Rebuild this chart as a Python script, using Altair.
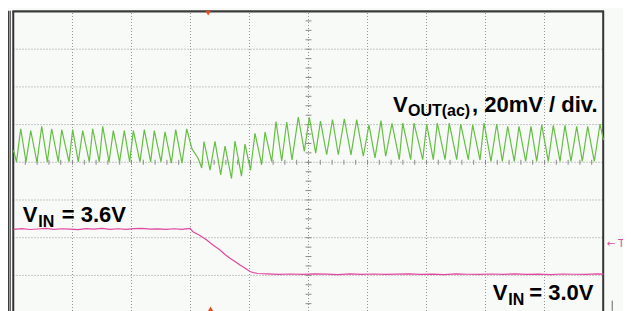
import altair as alt
import pandas as pd

# ---- Oscilloscope screen: 10 x 8 divisions -------------------------------
# VOUT(ac) trace (channel 1): time in divisions, value in mV (0 mV = centre line)
green_t = [0.0, 0.051, 0.122, 0.212, 0.292, 0.398, 0.478, 0.573, 0.647, 0.759,
           0.817, 0.941, 1.003, 1.098, 1.173, 1.285, 1.342, 1.454, 1.512, 1.619,
           1.692, 1.797, 1.878, 1.969, 2.031, 2.144, 2.217, 2.325, 2.386, 2.5,
           2.568, 2.675, 2.749, 2.856, 2.936, 3.025, 3.127, 3.19, 3.229, 3.331,
           3.415, 3.512, 3.585, 3.695, 3.754, 3.864, 3.924, 4.017, 4.093, 4.207,
           4.263, 4.376, 4.449, 4.546, 4.631, 4.72, 4.827, 4.929, 5.014, 5.122,
           5.203, 5.308, 5.407, 5.505, 5.607, 5.72, 5.817, 5.929, 6.025, 6.127,
           6.229, 6.308, 6.415, 6.539, 6.597, 6.732, 6.788, 6.936, 7.003, 7.115,
           7.183, 7.314, 7.386, 7.512, 7.58, 7.708, 7.783, 7.907, 7.975, 8.093,
           8.19, 8.285, 8.376, 8.488, 8.568, 8.681, 8.771, 8.868, 8.953, 9.064,
           9.149, 9.263, 9.347, 9.449, 9.546, 9.641, 9.732, 9.844, 9.941, 10.0]
green_mv = [6.5, 0.2, 17.8, 0.2, 16.8, -0.1, 19.1, 0.2, 17.8, 0.2,
            17.3, 0.2, 17.3, 0.2, 16.8, 0.2, 17.8, 0.2, 19.1, 0.2,
            16.8, 0.2, 16.8, 0.2, 16.8, 0.2, 17.3, 0.2, 16.8, 0.2,
            16.1, -0.4, 17.3, -0.4, 17.7, 7.1, 2.3, -3.0, 11.0, -4.1,
            11.1, -6.7, 8.6, -8.6, 11.3, -7.3, 9.7, -4.1, 15.4, -1.2,
            16.1, 0.4, 21.6, 0.7, 21.4, 1.2, 24.0, 5.8, 23.9, 4.9,
            21.9, 4.0, 22.7, 4.0, 23.1, 3.9, 22.6, 3.2, 19.9, 2.3,
            22.1, 3.2, 20.6, 1.4, 20.8, 1.4, 20.8, 1.4, 20.3, 1.4,
            20.8, 1.4, 20.8, 1.4, 20.3, 1.4, 19.9, 1.2, 20.8, 0.5,
            20.3, 0.5, 19.1, 0.5, 19.1, 0.5, 19.1, 0.5, 19.9, 0.5,
            19.6, 0.5, 19.6, 0.5, 19.1, 0.5, 19.1, 0.5, 20.3, 11.8]

# VIN trace (channel 2): time in divisions, value in volts
vin_t = [0.0, 0.144, 0.28, 0.415, 0.551, 0.686, 0.822, 0.958, 1.093, 1.229,
         1.364, 1.5, 1.636, 1.771, 1.907, 2.042, 2.178, 2.314, 2.449, 2.585,
         2.72, 2.856, 2.992, 3.042, 3.161, 3.275, 3.381, 3.5, 3.585, 3.669,
         3.754, 3.839, 3.953, 4.008, 4.059, 4.136,
         4.3, 4.5, 4.7, 4.9, 5.1, 5.3, 5.5, 5.7, 5.9, 6.1,
         6.3, 6.5, 6.7, 6.9, 7.1, 7.3, 7.5, 7.7, 7.9, 8.1,
         8.3, 8.5, 8.7, 8.9, 9.1, 9.3, 9.5, 9.7, 9.9, 10.0]
vin_v = [3.596, 3.604, 3.593, 3.6, 3.607, 3.595, 3.603, 3.597, 3.592, 3.604,
         3.599, 3.608, 3.596, 3.603, 3.595, 3.605, 3.609, 3.597, 3.601, 3.595,
         3.603, 3.596, 3.607, 3.564, 3.514, 3.454, 3.388, 3.321, 3.262, 3.211,
         3.169, 3.123, 3.065, 3.036, 3.023, 3.010,
         3.004, 2.998, 3.003, 2.997, 3.005, 3.001, 2.996, 3.004, 2.999, 3.003,
         2.997, 3.002, 3.006, 2.998, 3.001, 2.996, 3.004, 3.0, 2.997, 3.003,
         2.999, 3.005, 2.998, 3.002, 2.996, 3.003, 3.0, 2.997, 3.004, 3.001]

# Channel settings
VOUT_MV_PER_DIV = 20.0
VOUT_CENTER_DIV = 4.0
VIN_V_PER_DIV = 0.5
VIN_REF_V = 3.6
VIN_REF_DIV = 2.231

# Graticule
grid_x = [1, 2, 3, 4, 5, 6, 7, 8, 9]
grid_y = [1, 2, 3, 4, 5, 6, 7]

# Labels (division coordinates)
label_text = ["V", "OUT(ac)", ", 20mV / div.", "V", "IN", "= 3.6V", "V", "IN", "= 3.0V"]
label_x = [6.432, 6.686, 7.771, 0.156, 0.42, 0.817, 8.122, 8.386, 8.742]
label_y = [5.347, 5.215, 5.347, 2.424, 2.292, 2.424, 0.347, 0.215, 0.347]
label_size = [22, 16, 22, 22, 16, 22, 22, 16, 22]

X_DOM = [-0.0932, 10.3305]
Y_DOM = [0.0557, 8.0928]
W, H = 615, 303

xs = alt.Scale(domain=X_DOM, nice=False, zero=False)
ys = alt.Scale(domain=Y_DOM, nice=False, zero=False)

assert len(green_t) == len(green_mv)
assert len(vin_t) == len(vin_v)

green_df = pd.DataFrame({
    "t": green_t,
    "div": [VOUT_CENTER_DIV + v / VOUT_MV_PER_DIV for v in green_mv],
})
vin_df = pd.DataFrame({
    "t": vin_t,
    "div": [VIN_REF_DIV + (v - VIN_REF_V) / VIN_V_PER_DIV for v in vin_v],
})

GRID = "#959595"
vgrid = pd.DataFrame({"x": grid_x, "y": [Y_DOM[0]] * len(grid_x), "y2": [8.0] * len(grid_x)})
hgrid = pd.DataFrame({"y": grid_y, "x": [0.0] * len(grid_y), "x2": [10.0] * len(grid_y)})

# minor ticks on the centre cross
tick_rows = []
for j in range(1, 33):
    yy = j / 4
    if Y_DOM[0] < yy < 8:
        tick_rows.append({"x": 4.95, "x2": 5.05, "y": yy, "y2": yy})
for j in range(1, 50):
    xx = j / 5
    tick_rows.append({"x": xx, "x2": xx, "y": 3.934, "y2": 4.066})
ticks = pd.DataFrame(tick_rows)

frame = pd.DataFrame([
    {"x": -0.084, "x2": -0.084, "y": Y_DOM[0], "y2": 8.02, "w": 1.6, "c": "#3c3c3c"},
    {"x": -0.054, "x2": -0.054, "y": Y_DOM[0], "y2": 8.02, "w": 1.2, "c": "#555555"},
    {"x": -0.004, "x2": -0.004, "y": Y_DOM[0], "y2": 8.005, "w": 2.0, "c": "#333333"},
    {"x": 9.995, "x2": 9.995, "y": Y_DOM[0], "y2": 8.005, "w": 2.0, "c": "#333333"},
    {"x": -0.02, "x2": 10.01, "y": 8.005, "y2": 8.005, "w": 2.2, "c": "#3a3a3a"},
    {"x": 10.148, "x2": 10.148, "y": 0.06, "y2": 0.33, "w": 1.0, "c": "#666666"},
])

vg = alt.Chart(vgrid).mark_rule(color=GRID, strokeDash=[1, 2], strokeWidth=1).encode(
    x=alt.X("x:Q", scale=xs, axis=None), y=alt.Y("y:Q", scale=ys, axis=None), y2="y2:Q")
hg = alt.Chart(hgrid).mark_rule(color=GRID, strokeDash=[1, 2], strokeWidth=1).encode(
    x=alt.X("x:Q", scale=xs, axis=None), x2="x2:Q", y=alt.Y("y:Q", scale=ys, axis=None))
tk = alt.Chart(ticks).mark_rule(color="#8a8a8a", strokeWidth=1).encode(
    x=alt.X("x:Q", scale=xs, axis=None), x2="x2:Q",
    y=alt.Y("y:Q", scale=ys, axis=None), y2="y2:Q")
fr = alt.Chart(frame).mark_rule().encode(
    x=alt.X("x:Q", scale=xs, axis=None), x2="x2:Q",
    y=alt.Y("y:Q", scale=ys, axis=None), y2="y2:Q",
    size=alt.Size("w:Q", scale=None, legend=None),
    color=alt.Color("c:N", scale=None, legend=None))

green = alt.Chart(green_df).mark_line(color="#66bf45", strokeWidth=1.2, clip=True).encode(
    x=alt.X("t:Q", scale=xs, axis=None), y=alt.Y("div:Q", scale=ys, axis=None))
vin = alt.Chart(vin_df).mark_line(color="#e0479f", strokeWidth=1.2, clip=True).encode(
    x=alt.X("t:Q", scale=xs, axis=None), y=alt.Y("div:Q", scale=ys, axis=None))

labels = pd.DataFrame({"text": label_text, "x": label_x, "y": label_y, "s": label_size})
lab = alt.Chart(labels).mark_text(
    align="left", baseline="alphabetic", font="Liberation Sans", fontWeight="bold",
    color="#000000").encode(
    x=alt.X("x:Q", scale=xs, axis=None), y=alt.Y("y:Q", scale=ys, axis=None),
    text="text:N", size=alt.Size("s:Q", scale=None, legend=None))

tlabel = alt.Chart(pd.DataFrame({"x": [10.055], "y": [1.841], "text": ["\u2190 T"]})).mark_text(
    align="left", baseline="middle", font="DejaVu Sans", fontSize=10, color="#e0479f").encode(
    x=alt.X("x:Q", scale=xs, axis=None), y=alt.Y("y:Q", scale=ys, axis=None), text="text:N")

markers = pd.DataFrame({"x": [3.3, 3.34], "y": [7.96, 0.11],
                        "shape": ["triangle-down", "triangle-up"]})
mk = alt.Chart(markers).mark_point(filled=True, color="#e84a1c", size=30, opacity=1).encode(
    x=alt.X("x:Q", scale=xs, axis=None), y=alt.Y("y:Q", scale=ys, axis=None),
    shape=alt.Shape("shape:N", scale=None, legend=None))

chart = alt.layer(vg, hg, tk, fr, green, vin, lab, tlabel, mk).properties(
    width=W, height=H,
    autosize=alt.AutoSizeParams(type="none"),
    padding={"left": 0, "top": 0, "right": 0, "bottom": 0},
    background="#f8faf7",
).configure_view(strokeWidth=0, fill="#f8faf7")

chart.save("out.html", embed_options={"renderer": "svg", "actions": False})
